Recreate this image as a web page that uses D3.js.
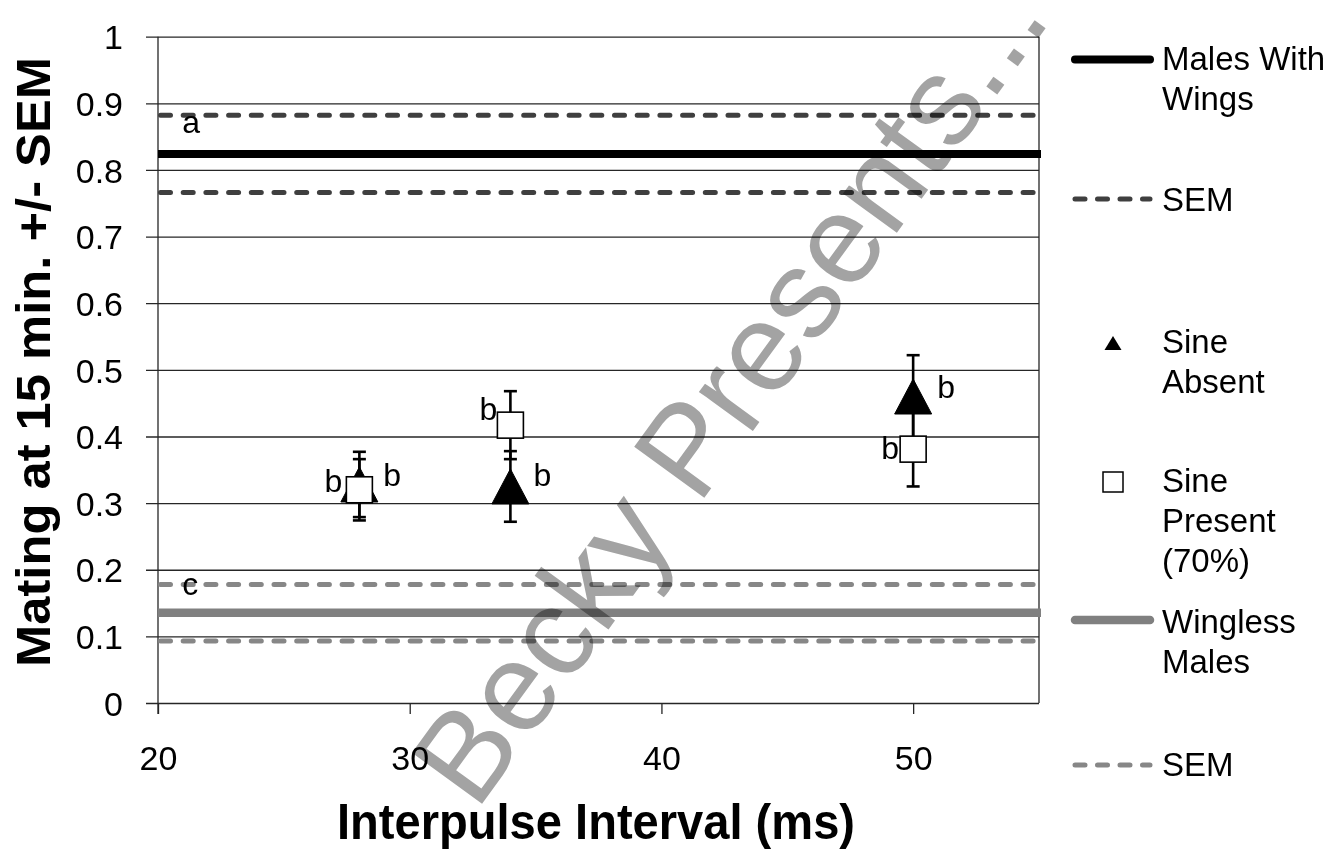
<!DOCTYPE html>
<html>
<head>
<meta charset="utf-8">
<script src="https://cdn.jsdelivr.net/npm/d3@7"></script>
<style>
  html, body { margin: 0; padding: 0; background: #fff; }
  svg { display: block; }
  text { font-family: "Liberation Sans", Arial, sans-serif; }
</style>
</head>
<body>
<svg id="chart" width="1341" height="850"></svg>
<script>
// ---- data ----------------------------------------------------------------
const intervals = [28, 34, 50];                 // interpulse interval (ms)
const sineAbsent = [0.328, 0.325, 0.460];       // mean mating fraction
const sineAbsentSem = [0.049, 0.053, 0.062];
const sinePresent = [0.320, 0.417, 0.381];
const sinePresentSem = [0.046, 0.051, 0.056];
const absentLetters = ["b", "b", "b"];
const presentLetters = ["b", "b", "b"];

const controlNames = ["Males With Wings", "Wingless Males"];
const controlMeans = [0.824, 0.1355];
const controlSems = [0.058, 0.0425];
const controlLetters = ["a", "c"];

const xTicks = [20, 30, 40, 50];
const yTicks = [0, 0.1, 0.2, 0.3, 0.4, 0.5, 0.6, 0.7, 0.8, 0.9, 1];

// ---- layout ----------------------------------------------------------------
const svg = d3.select("#chart");
const x = d3.scaleLinear().domain([20, 55]).range([158, 1039]);
const y = d3.scaleLinear().domain([0, 1]).range([703, 36.7]);
const plotW = x(55) - x(20);

// horizontal gridlines with short outside ticks, plus value labels
const yAxis = d3.axisLeft(y)
  .tickValues(yTicks)
  .tickSize(-plotW)
  .tickFormat(d => String(+d.toFixed(1)));
const gy = svg.append("g").attr("transform", `translate(${x(20)},0)`).call(yAxis);
gy.select(".domain").remove();
gy.selectAll(".tick line")
  .attr("x1", -12)
  .attr("stroke", "#262626")
  .attr("stroke-width", 1.3);
gy.selectAll(".tick text")
  .attr("x", -35)
  .attr("dy", "0.36em")
  .attr("font-size", 34)
  .attr("font-family", "Liberation Sans, Arial, sans-serif")
  .attr("fill", "#000");

// bottom axis ticks and labels
const xAxis = d3.axisBottom(x).tickValues(xTicks).tickSize(11).tickFormat(d3.format("d"));
const gx = svg.append("g").attr("transform", `translate(0,${y(0)})`).call(xAxis);
gx.select(".domain").remove();
gx.selectAll(".tick line").attr("stroke", "#262626").attr("stroke-width", 1.3);
gx.selectAll(".tick text")
  .attr("y", 67).attr("dy", 0)
  .attr("font-size", 34)
  .attr("font-family", "Liberation Sans, Arial, sans-serif")
  .attr("fill", "#000");

// vertical axis line and right frame edge
svg.append("line")
  .attr("x1", x(20)).attr("x2", x(20))
  .attr("y1", y(1)).attr("y2", y(0) + 11)
  .attr("stroke", "#262626").attr("stroke-width", 1.3);
svg.append("line")
  .attr("x1", x(55)).attr("x2", x(55))
  .attr("y1", y(1)).attr("y2", y(0))
  .attr("stroke", "#262626").attr("stroke-width", 1.3);

// ---- control reference lines (mean and +/- SEM) ---------------------------
const controlColors = ["#000000", "#808080"];
const semColors = ["#3f3f3f", "#878787"];
const meanWidths = [8, 8.5];

controlMeans.forEach((m, i) => {
  const s = controlSems[i];
  [m + s, m - s].forEach(v => {
    svg.append("line")
      .attr("x1", x(20) + 2.5).attr("x2", x(55))
      .attr("y1", y(v)).attr("y2", y(v))
      .attr("stroke", semColors[i])
      .attr("stroke-width", 5)
      .attr("stroke-linecap", "round")
      .attr("stroke-dasharray", "10 12.7");
  });
  svg.append("line")
    .attr("x1", x(20)).attr("x2", x(55) + 2)
    .attr("y1", y(m)).attr("y2", y(m))
    .attr("stroke", controlColors[i])
    .attr("stroke-width", meanWidths[i]);
});

// significance letters on the control lines
const controlLetterDy = [18, 10.6];
controlLetters.forEach((t, i) => {
  svg.append("text")
    .attr("x", x(21) - 1)
    .attr("y", y(controlMeans[i] + controlSems[i]) + controlLetterDy[i])
    .attr("font-size", 32)
    .attr("fill", "#000")
    .text(t);
});

// ---- treatment series --------------------------------------------------------
function errorBars(g, means, sems) {
  const capHalf = 6.5;
  intervals.forEach((iv, i) => {
    const cx = x(iv), hi = y(means[i] + sems[i]), lo = y(means[i] - sems[i]);
    g.append("line").attr("x1", cx).attr("x2", cx).attr("y1", hi).attr("y2", lo)
      .attr("stroke", "#000").attr("stroke-width", 2.6);
    [hi, lo].forEach(yy => {
      g.append("line").attr("x1", cx - capHalf).attr("x2", cx + capHalf)
        .attr("y1", yy).attr("y2", yy)
        .attr("stroke", "#000").attr("stroke-width", 2.6);
    });
  });
}

const triW = 37, triH = 35;
const triPath = (cx, cy, w, h) =>
  `M${cx},${cy - h / 2}L${cx + w / 2},${cy + h / 2}L${cx - w / 2},${cy + h / 2}Z`;

// Sine absent: filled triangles
const gAbsent = svg.append("g");
errorBars(gAbsent, sineAbsent, sineAbsentSem);
gAbsent.selectAll("path").data(intervals).join("path")
  .attr("d", (d, i) => triPath(x(d), y(sineAbsent[i]), triW, triH))
  .attr("fill", "#000").attr("stroke", "#000").attr("stroke-width", 1);

// Sine present: open squares
const sq = 26;
const gPresent = svg.append("g");
errorBars(gPresent, sinePresent, sinePresentSem);
gPresent.selectAll("rect").data(intervals).join("rect")
  .attr("x", d => x(d) - sq / 2)
  .attr("y", (d, i) => y(sinePresent[i]) - sq / 2)
  .attr("width", sq).attr("height", sq)
  .attr("fill", "#fff").attr("stroke", "#000").attr("stroke-width", 1.6);

// significance letters next to the markers
const absentLabelDx = [24, 23, 24], absentLabelDy = [2, 0, 1];
const presentLabelDx = [-17, -13, -14], presentLabelDy = [2, -5, 10];
svg.append("g").selectAll("text").data(intervals).join("text")
  .attr("x", (d, i) => x(d) + absentLabelDx[i])
  .attr("y", (d, i) => y(sineAbsent[i]) + absentLabelDy[i])
  .attr("font-size", 32)
  .attr("fill", "#000")
  .text((d, i) => absentLetters[i]);
svg.append("g").selectAll("text").data(intervals).join("text")
  .attr("x", (d, i) => x(d) + presentLabelDx[i])
  .attr("y", (d, i) => y(sinePresent[i]) + presentLabelDy[i])
  .attr("text-anchor", "end")
  .attr("font-size", 32)
  .attr("fill", "#000")
  .text((d, i) => presentLetters[i]);

// ---- legend -------------------------------------------------------------------
const lg = svg.append("g");
const lx0 = 1075, lx1 = 1150, tx = 1162;
function legendLine(yy, color, width, dashed) {
  const l = lg.append("line").attr("x1", lx0).attr("x2", lx1)
    .attr("y1", yy).attr("y2", yy)
    .attr("stroke", color).attr("stroke-linecap", "round");
  if (dashed) l.attr("stroke-width", 5).attr("stroke-dasharray", "10 12.5");
  else l.attr("stroke-width", width);
}
function legendText(lines, baseline) {
  lines.forEach((s, k) => {
    lg.append("text").attr("x", tx).attr("y", baseline + k * 40)
      .attr("font-size", 33).attr("fill", "#000").text(s);
  });
}
legendLine(59.5, "#000", 8, false);
legendText(["Males With", "Wings"], 70);
legendLine(199, semColors[0], 5, true);
legendText(["SEM"], 211);
lg.append("path").attr("d", triPath(1113, 343, 17, 14)).attr("fill", "#000");
legendText(["Sine", "Absent"], 353);
lg.append("rect").attr("x", 1103).attr("y", 472).attr("width", 20).attr("height", 20)
  .attr("fill", "#fff").attr("stroke", "#000").attr("stroke-width", 1.5);
legendText(["Sine", "Present", "(70%)"], 492);
legendLine(620, "#808080", 8.5, false);
legendText(["Wingless", "Males"], 633);
legendLine(765, semColors[1], 5, true);
legendText(["SEM"], 776);

// ---- axis titles -----------------------------------------------------------------
svg.append("text")
  .attr("x", 596).attr("y", 839)
  .attr("text-anchor", "middle")
  .attr("font-size", 50).attr("font-weight", "bold")
  .attr("fill", "#000")
  .attr("textLength", 518).attr("lengthAdjust", "spacingAndGlyphs")
  .text("Interpulse Interval (ms)");
svg.append("text")
  .attr("transform", "translate(50,362) rotate(-90)")
  .attr("text-anchor", "middle")
  .attr("font-size", 49).attr("font-weight", "bold")
  .attr("fill", "#000")
  .attr("textLength", 610).attr("lengthAdjust", "spacingAndGlyphs")
  .text("Mating at 15 min. +/- SEM");

// ---- diagonal watermark -------------------------------------------------------------
const wmText = "Becky Presents...";
const wm = svg.append("text")
  .attr("transform", "translate(476,812) rotate(-54)")
  .attr("font-family", "DejaVu Sans, sans-serif")
  .attr("font-size", 126)
  .style("fill", "#a3a3a3")
  .style("mix-blend-mode", "multiply")
  .text(wmText);
const wmLen = wm.node().getComputedTextLength();
wm.attr("letter-spacing", Math.max(0, (962 - wmLen) / (wmText.length - 1)));
</script>
</body>
</html>
